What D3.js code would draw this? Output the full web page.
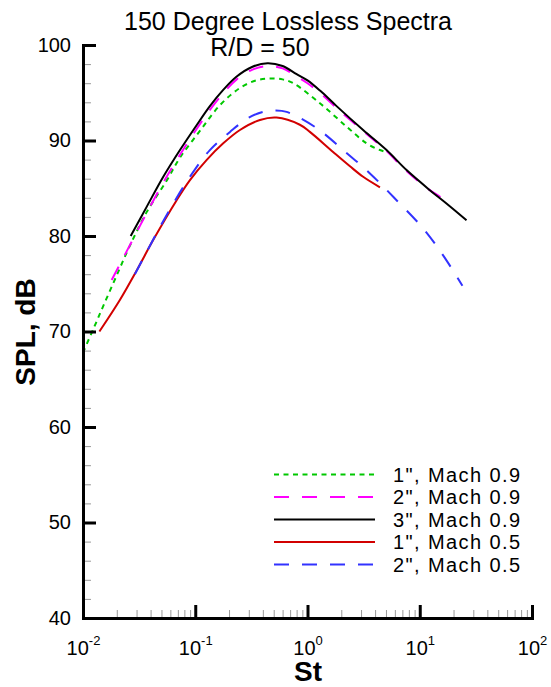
<!DOCTYPE html>
<html><head><meta charset="utf-8">
<script src="https://cdn.jsdelivr.net/npm/d3@7"></script>
<style>
html,body{margin:0;padding:0;background:#fff;}
svg text{font-family:"Liberation Sans",Arial,Helvetica,sans-serif;}
</style></head>
<body>
<svg id="chart" width="551" height="687"></svg>
<script>
// ---- data (St, SPL dB) ----
const g1m09St  = [0.01, 0.0124, 0.0152, 0.02, 0.0262, 0.0369, 0.0556, 0.0731, 0.110, 0.166, 0.25, 0.35, 0.462, 0.6, 0.746, 1.29, 2.23, 3.36, 4.42, 5.0];
const g1m09Spl = [67.8, 70.3, 72.7, 75.9, 79.0, 82.5, 85.8, 88.2, 91.0, 93.7, 95.5, 96.3, 96.5, 96.4, 96.0, 93.9, 91.45, 89.7, 89.0, 88.8];

const g2m09St  = [0.018, 0.0266, 0.0369, 0.0519, 0.0731, 0.1028, 0.135, 0.1775, 0.234, 0.32, 0.44, 0.6, 0.8, 1.0, 1.3, 1.816, 3.13, 5.06, 7.63, 12.3, 17.3];
const g2m09Spl = [75.4, 79.2, 82.4, 85.6, 88.5, 91.2, 93.2, 94.95, 96.4, 97.4, 97.8, 97.55, 96.7, 96.0, 94.95, 93.4, 91.0, 88.9, 86.8, 84.8, 83.7];

const g3m09St  = [0.0266, 0.0369, 0.0519, 0.0731, 0.1028, 0.135, 0.1775, 0.234, 0.32, 0.44, 0.6, 0.8, 1.0, 1.3, 1.816, 3.13, 5.06, 7.63, 12.3, 17.3, 26.1];
const g3m09Spl = [80.0, 83.05, 86.2, 89.0, 91.6, 93.6, 95.3, 96.7, 97.7, 98.1, 97.8, 96.95, 96.3, 95.2, 93.6, 91.1, 89.0, 86.9, 84.8, 83.4, 81.66];

const g1m05St  = [0.014, 0.0213, 0.0301, 0.0423, 0.0683, 0.0897, 0.126, 0.1775, 0.25, 0.377, 0.53, 0.855, 1.05, 1.69, 2.39, 3.13, 4.42];
const g1m05Spl = [70.0, 73.3, 76.4, 79.6, 83.75, 85.85, 87.95, 89.7, 91.1, 92.15, 92.4, 91.65, 90.9, 88.8, 87.3, 86.2, 85.1];

const g2m05St  = [0.029, 0.0453, 0.0637, 0.0897, 0.135, 0.204, 0.3, 0.403, 0.52, 0.652, 1.205, 2.08, 3.6, 6.21, 10.7, 16.1, 24.0];
const g2m05Spl = [76.0, 80.3, 83.4, 86.2, 89.0, 90.9, 92.4, 93.0, 93.15, 93.0, 91.3, 89.0, 86.55, 83.75, 80.8, 78.0, 74.8];

const seriesNames = ['1", Mach 0.9', '2", Mach 0.9', '3", Mach 0.9', '1", Mach 0.5', '2", Mach 0.5'];
const xMajorTicks = [0.01, 0.1, 1, 10, 100];
const xTickExponents = ["-2", "-1", "0", "1", "2"];
const yMajorTicks = [40, 50, 60, 70, 80, 90, 100];
const titleLines = ["150 Degree Lossless Spectra", "R/D = 50"];
const xTitle = "St";
const yTitle = "SPL, dB";

// ---- styles ----
const styles = [
  {color: "rgb(0,200,0)",   dash: "5,4.5"},
  {color: "rgb(255,0,255)", dash: "15,13"},
  {color: "#000000",        dash: null},
  {color: "rgb(210,0,0)",   dash: null},
  {color: "rgb(50,50,255)", dash: "15,13"}
];
const series = [
  [g1m09St, g1m09Spl], [g2m09St, g2m09Spl], [g3m09St, g3m09Spl],
  [g1m05St, g1m05Spl], [g2m05St, g2m05Spl]
].map((p, i) => ({name: seriesNames[i], pts: p[0].map((s, j) => [s, p[1][j]]), ...styles[i]}));

const svg = d3.select("#chart");
const x = d3.scaleLog().domain([0.01, 100]).range([83, 532]);
const y = d3.scaleLinear().domain([40, 100]).range([618, 45]);

// minor ticks
const xMinor = [];
for (let d = -2; d < 2; d++) for (let m = 2; m <= 9; m++) xMinor.push(m * Math.pow(10, d));
const yMinor = d3.range(40, 100.01, 2).filter(v => v % 10 !== 0);

const gxMinor = svg.append("g").attr("transform", "translate(0,618)")
  .call(d3.axisBottom(x).tickValues(xMinor).tickSize(-8).tickSizeOuter(0).tickFormat(""));
gxMinor.select(".domain").remove();
gxMinor.selectAll(".tick line").attr("stroke", "#9a9a9a").attr("stroke-width", 1);

const gyMinor = svg.append("g").attr("transform", "translate(83,0)")
  .call(d3.axisLeft(y).tickValues(yMinor).tickSize(-8).tickSizeOuter(0).tickFormat(""));
gyMinor.select(".domain").remove();
gyMinor.selectAll(".tick line").attr("stroke", "#9a9a9a").attr("stroke-width", 1);

// curves
const line = d3.line().x(d => x(d[0])).y(d => y(d[1])).curve(d3.curveCatmullRom.alpha(0.5));
svg.append("g").selectAll("path").data(series).join("path")
  .attr("d", d => line(d.pts))
  .attr("fill", "none")
  .attr("stroke", d => d.color)
  .attr("stroke-width", 2)
  .attr("stroke-dasharray", d => d.dash);

// major axes
const gx = svg.append("g").attr("transform", "translate(0,618)")
  .call(d3.axisBottom(x).tickValues(xMajorTicks).tickSize(-13).tickSizeOuter(0).tickFormat(""));
gx.select(".domain").attr("stroke-width", 3).attr("stroke-linecap", "square");
gx.selectAll(".tick line").attr("stroke-width", 3);
gx.selectAll(".tick").each(function(d, i) {
  const t = d3.select(this).append("text")
    .attr("y", 37).attr("fill", "#000").attr("text-anchor", "middle")
    .style("font-size", "20px");
  t.append("tspan").text("10");
  t.append("tspan").attr("dy", -10).style("font-size", "13px").text(xTickExponents[i]);
});

const gy = svg.append("g").attr("transform", "translate(83,0)")
  .call(d3.axisLeft(y).tickValues(yMajorTicks).tickSize(-13).tickSizeOuter(0).tickPadding(12));
gy.select(".domain").attr("stroke-width", 3).attr("stroke-linecap", "square");
gy.selectAll(".tick line").attr("stroke-width", 3);
gy.selectAll(".tick text").style("font-size", "20px").attr("fill", "#000").attr("font-family", null);

// titles
svg.append("text").attr("x", 288).attr("y", 30).attr("text-anchor", "middle")
  .style("font-size", "25px").text(titleLines[0]);
svg.append("text").attr("x", 260).attr("y", 56).attr("text-anchor", "middle")
  .style("font-size", "25px").text(titleLines[1]);
svg.append("text").attr("x", 308).attr("y", 681).attr("text-anchor", "middle")
  .style("font-size", "28px").style("font-weight", "bold").text(xTitle);
svg.append("text").attr("transform", "translate(35,332) rotate(-90)").attr("text-anchor", "middle")
  .style("font-size", "28px").style("font-weight", "bold").text(yTitle);

// legend
const legY = d3.scalePoint().domain(seriesNames).range([474.5, 564.5]);
const leg = svg.append("g").selectAll("g").data(series).join("g")
  .attr("transform", d => `translate(0,${legY(d.name)})`);
leg.append("line").attr("x1", 274).attr("x2", 375).attr("y1", 0).attr("y2", 0)
  .attr("stroke", d => d.color).attr("stroke-width", 2).attr("stroke-dasharray", d => d.dash);
leg.append("text").attr("x", 393).attr("y", 7).style("font-size", "20px")
  .style("letter-spacing", "1.4px").text(d => d.name);
</script>
</body></html>
